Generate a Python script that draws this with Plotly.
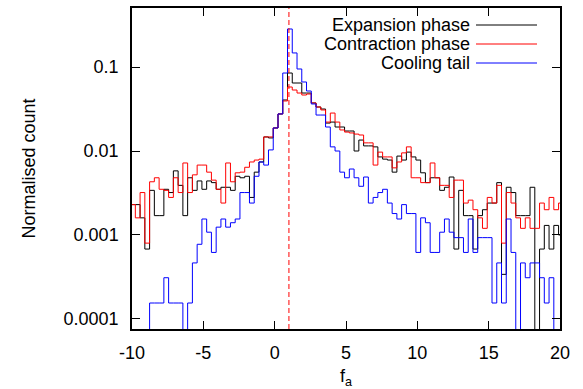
import numpy as np
import plotly.graph_objects as go

# ---------------- data ----------------
bin_start = -10.1          # left edge of first bin
bin_width = 1.0 / 3.0      # histogram bin width
fa_marker = 1.0            # position of dashed reference line

series_names = ["Expansion phase", "Contraction phase", "Cooling tail"]

expansion = [
    0.0023, 0.0023, 0.0016, 0.00068, 0.0034, 0.0017, 0.0017, 0.0035, 0.0032, 0.0058,
    0.0039, 0.0017, 0.0048, 0.0034, 0.0044, 0.0035, 0.0044, 0.0042, 0.0035, 0.0037,
    0.0037, 0.0034, 0.0050, 0.0048, 0.0050, 0.0028, 0.0056, 0.0074, 0.0147, 0.0143,
    0.0188, 0.0276, 0.0405, 0.0848, 0.0645, 0.0645, 0.0490, 0.0490, 0.0373, 0.0334,
    0.0316, 0.0215, 0.0221, 0.0193, 0.0193, 0.0173, 0.0173, 0.0100, 0.0135, 0.0115,
    0.0115, 0.0112, 0.0085, 0.0080, 0.0078, 0.0056, 0.0087, 0.0078, 0.0097, 0.0085,
    0.0078, 0.0055, 0.0042, 0.0048, 0.0048, 0.0034, 0.0037, 0.0049, 0.00068, 0.0034,
    0.0017, 0.0017, 0.00068, 0.0017, 0.0020, 0.0024, 0.0024, 0.0042, 0.00034, 0.0037,
    0.0032, 0.0017, 0.0017, 0.0017, 0.0037, 0.0, 0.00068, 0.0013, 0.00068, 0.0013,
    0.0010,
]

contraction = [
    0.0023, 0.0016, 0.0032, 0.0008, 0.0043, 0.0048, 0.0035, 0.0034, 0.0028, 0.0048,
    0.0032, 0.0072, 0.0032, 0.0052, 0.0068, 0.0068, 0.0056, 0.0045, 0.0035, 0.0024,
    0.0072, 0.0043, 0.0055, 0.0056, 0.0064, 0.0074, 0.0078, 0.0080, 0.0147, 0.0147,
    0.0188, 0.0276, 0.0394, 0.0578, 0.0532, 0.0490, 0.0464, 0.0477, 0.0373, 0.0334,
    0.0308, 0.0221, 0.0283, 0.0221, 0.0178, 0.0168, 0.0164, 0.0159, 0.0155, 0.0125,
    0.0125, 0.0068, 0.0097, 0.0085, 0.0085, 0.0063, 0.0074, 0.0095, 0.0112, 0.0048,
    0.0048, 0.0042, 0.0042, 0.0072, 0.0048, 0.0039, 0.0039, 0.0028, 0.0045, 0.0045,
    0.0024, 0.0026, 0.0020, 0.0016, 0.0012, 0.0028, 0.0024, 0.0039, 0.0008, 0.0032,
    0.0024, 0.0016, 0.0012, 0.0016, 0.0012, 0.0012, 0.0024, 0.0020, 0.0028, 0.0020,
    0.0024,
]

cooling = [
    0.0, 0.0, 0.0, 0.0, 0.000155, 0.000155, 0.000155, 0.00031, 0.000155, 0.000155,
    0.000155, 0.0, 0.000155, 0.000465, 0.000775, 0.00155, 0.00108, 0.00062, 0.00124, 0.00155,
    0.00124, 0.0014, 0.00155, 0.0032, 0.0032, 0.0024, 0.0050, 0.0074, 0.0068, 0.0103,
    0.0188, 0.0276, 0.0848, 0.2835, 0.147, 0.0947, 0.0663, 0.0518, 0.0363, 0.0268,
    0.0268, 0.0193, 0.0112, 0.0100, 0.0056, 0.0048, 0.0061, 0.0048, 0.0038, 0.0049,
    0.0024, 0.0028, 0.0032, 0.0035, 0.0024, 0.0018, 0.00155, 0.0023, 0.0018, 0.0018,
    0.00062, 0.0016, 0.0014, 0.00062, 0.00062, 0.00108, 0.00155, 0.00108, 0.00093, 0.00093,
    0.00062, 0.00155, 0.00062, 0.00093, 0.00093, 0.00093, 0.000155, 0.000465, 0.000155, 0.00155,
    0.00062, 0.0, 0.000465, 0.00031, 0.000465, 0.000465, 0.00031, 0.000155, 0.00031, 0.0,
    0.0,
]

x_tickvals = [-10, -5, 0, 5, 10, 15, 20]
x_ticktext = ["-10", "-5", "0", "5", "10", "15", "20"]
y_tickvals = [1e-4, 1e-3, 1e-2, 1e-1]
y_ticktext = ["0.0001", "0.001", "0.01", "0.1"]

colors = ["#000000", "#ff0000", "#0000ff"]

# ---------------- figure ----------------
FONT = "Liberation Sans, Arial, Helvetica, sans-serif"
W, H = 583, 389
ML, MR, MT, MB = 132, 23, 8, 60

fig = go.Figure()

for name, vals, col in zip(series_names, [expansion, contraction, cooling], colors):
    n = len(vals)
    edges = bin_start + bin_width * np.arange(n + 1)
    yv = np.array(vals, dtype=float)
    yv = np.where(yv > 0, yv, 1e-9)          # empty bins drop below the axis
    ys = np.append(yv, yv[-1])
    fig.add_trace(go.Scatter(
        x=edges, y=ys, mode="lines", name=name,
        line=dict(color=col, width=1, shape="hv"),
        showlegend=False, hoverinfo="skip",
    ))

# dashed vertical marker
fig.add_shape(type="line", xref="x", yref="paper", x0=fa_marker, x1=fa_marker,
              y0=0, y1=1, line=dict(color="#ff0000", width=1, dash="5px,3px"))

# manual gnuplot-style legend (text right aligned, sample on the right)
plot_w = W - ML - MR
plot_h = H - MT - MB
def px_to_paper_x(px):
    return (px - ML) / plot_w
def px_to_paper_y(py):
    return (H - MB - py) / plot_h

legend_rows_y = [25, 44, 63]
for name, col, py in zip(series_names, colors, legend_rows_y):
    yp = px_to_paper_y(py)
    fig.add_annotation(xref="paper", yref="paper", x=px_to_paper_x(472), y=yp,
                       text=name, showarrow=False, xanchor="right", yanchor="middle",
                       font=dict(family=FONT, size=18, color="#000000"))
    fig.add_shape(type="line", xref="paper", yref="paper",
                  x0=px_to_paper_x(476), x1=px_to_paper_x(537), y0=yp, y1=yp,
                  line=dict(color=col, width=1))

fig.update_layout(
    width=W, height=H,
    margin=dict(l=ML, r=MR, t=MT, b=MB, pad=0, autoexpand=False),
    paper_bgcolor="white", plot_bgcolor="white",
    font=dict(family=FONT, size=18, color="#000000"),
    showlegend=False,
)
fig.update_xaxes(
    range=[-10, 20], tickvals=x_tickvals, ticktext=x_ticktext,
    ticks="inside", ticklen=8, tickwidth=1, tickcolor="black",
    showline=True, linecolor="black", linewidth=1.5, mirror="ticks",
    showgrid=False, zeroline=False, automargin=False,
    ticklabelstandoff=7,
    title=dict(text="f<sub>a</sub>", standoff=8, font=dict(size=18)),
)
fig.update_yaxes(
    type="log", range=[np.log10(7.6e-5), np.log10(0.504)],
    tickvals=y_tickvals, ticktext=y_ticktext,
    ticks="inside", ticklen=8, tickwidth=1, tickcolor="black",
    showline=True, linecolor="black", linewidth=1.5, mirror="ticks",
    showgrid=False, zeroline=False, automargin=False,
    ticklabelstandoff=8,
    title=dict(text="Normalised count", standoff=23, font=dict(size=18)),
)

fig.write_html("out.html")
